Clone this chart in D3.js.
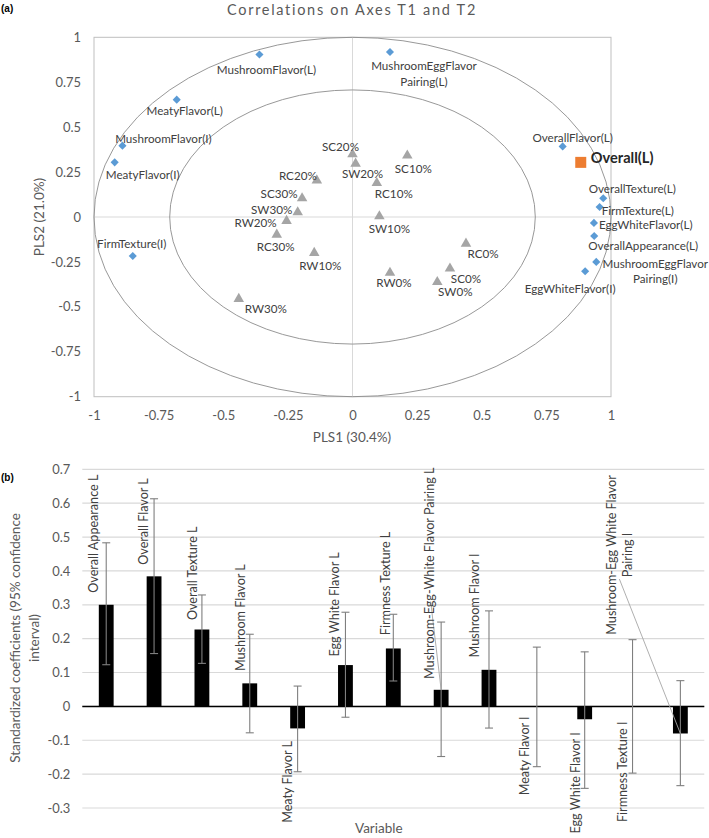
<!DOCTYPE html>
<html><head><meta charset="utf-8">
<script src="https://cdn.jsdelivr.net/npm/d3@7"></script>
<style>
body{margin:0;background:#fff;}
svg{display:block;font-family:Lato, "Open Sans", sans-serif;}
</style></head>
<body>
<svg id="c" width="709" height="838"></svg>
<script>
// ---------- Panel (a) data ----------
const varNames = ["MushroomFlavor(L)","MeatyFlavor(L)","MushroomFlavor(I)","MeatyFlavor(I)","FirmTexture(I)",
  "MushroomEggFlavor|Pairing(L)","OverallFlavor(L)","OverallTexture(L)","FirmTexture(L)","EggWhiteFlavor(L)",
  "OverallAppearance(L)","MushroomEggFlavor|Pairing(I)","EggWhiteFlavor(I)"];
const varX = [-0.36,-0.68,-0.89,-0.92,-0.85,0.145,0.813,0.97,0.956,0.934,0.935,0.943,0.90];
const varY = [0.904,0.653,0.397,0.304,-0.217,0.918,0.393,0.104,0.056,-0.033,-0.106,-0.25,-0.302];

const obsNames = ["SC20%","SW20%","SC10%","RC10%","SW10%","RC20%","SC30%","SW30%","RW20%","RC30%","RW10%","RW30%","RC0%","SC0%","SW0%","RW0%"];
const obsX = [0.0,0.012,0.212,0.094,0.104,-0.138,-0.195,-0.212,-0.255,-0.293,-0.148,-0.44,0.439,0.377,0.328,0.145];
const obsY = [0.349,0.297,0.342,0.189,0.004,0.204,0.104,0.026,-0.022,-0.098,-0.2,-0.456,-0.148,-0.287,-0.362,-0.31];

const depName = ["Overall(L)"];
const depX = [0.883];
const depY = [0.304];

const axisTicks = [-1,-0.75,-0.5,-0.25,0,0.25,0.5,0.75,1];
const circleRadii = [1, Math.SQRT1_2];

// label placement (pixels relative to point)
const varLabelPos = [[7,14,"middle"],[8,10,"middle"],[41,-8,"middle"],[28,12,"middle"],[-1,-13,"middle"],
  [34,13,"middle"],[10,-9,"middle"],[29,-10,"middle"],[2,3.5,"start"],[5,1.5,"start"],
  [49,9,"middle"],[59,0.6,"middle"],[-15,17,"middle"]];
const obsLabelPos = [[-12,-8],[7,9.4],[6,12.4],[17,10],[10,12],[-19,-5],[-23,-5.5],[-26,-3],[-31,1],[-1,11],[6,12],[27,9],[17,9],[16,9],[18,9],[4,9]];

// ---------- Panel (b) data ----------
const cats = ["Overall Appearance L","Overall Flavor L","Overall Texture L","Mushroom Flavor L","Meaty Flavor L",
  "Egg White Flavor L","Firmness Texture L","Mushroom-Egg-White Flavor Pairing L","Mushroom Flavor I","Meaty Flavor I",
  "Egg White Flavor I","Firmness Texture I","Mushroom-Egg White Flavor|Pairing I"];
const coef  = [0.30,0.384,0.227,0.068,-0.065,0.122,0.171,0.049,0.108,0.0,-0.038,0.0,-0.08];
const ciHi  = [0.483,0.613,0.329,0.213,0.06,0.278,0.272,0.249,0.282,0.175,0.161,0.197,0.076];
const ciLo  = [0.123,0.156,0.127,-0.078,-0.193,-0.032,0.075,-0.148,-0.064,-0.178,-0.242,-0.197,-0.234];
const bTicks = [-0.3,-0.2,-0.1,0,0.1,0.2,0.3,0.4,0.5,0.6,0.7];
// label placement: [dx px from bar centre, label centre in value units]
const catLabelPos = [[-13,0.510],[-10.7,0.546],[-9.3,0.393],[-9.3,0.262],[-10.4,-0.223],[-10.7,0.301],[-8.3,0.363],
  [-11.3,0.393],[-14.3,0.298],[-12.3,-0.146],[-9,-0.226],[-10.3,-0.193],[-69,0.447]];
// leader lines: index, start (dx px, value)
const leaders = [[7,-10.5,0.31],[12,-61,0.376]];

const svg = d3.select("#c");
const grayTxt = "#595959", darkTxt = "#404040";

// font calibration against text widths
function fitSize(samples, targetWidths, base, weight){
  const t = svg.append("g");
  let m = 0;
  samples.forEach(s=>{ const e=t.append("text").attr("font-size",base).attr("font-weight",weight||"normal").text(s); m+=e.node().getComputedTextLength(); });
  t.remove();
  return base * d3.sum(targetWidths) / m;
}
const fsPoint = fitSize(["MushroomFlavor(L)","MeatyFlavor(L)","OverallAppearance(L)","EggWhiteFlavor(I)","SC20%"],[100.7,76.7,111,90.7,34.6],12);
const fsCat = fitSize(["Overall Appearance L","Meaty Flavor L","Egg White Flavor I","Firmness Texture I","Mushroom-Egg-White Flavor Pairing L"],[121,80,95.7,100,216.7],12);
const fsTick = fitSize(["0.75","-0.75","-0.3","0.7"],[26,29.3,23.3,18.3],12);
const fsDep = fitSize(["Overall(L)"],[62.7],14,"bold");

// ================= Panel (a) =================
const x = d3.scaleLinear().domain([-1,1]).range([94,611]);
const y = d3.scaleLinear().domain([-1,1]).range([396.7,37.3]);
const gA = svg.append("g");

svg.append("text").attr("x",1).attr("y",12).attr("font-size",10).attr("font-weight","bold")
  .attr("font-family","Arial, sans-serif").text("(a)");
svg.append("text").attr("x",352).attr("y",15).attr("text-anchor","middle").attr("font-size",14.5)
  .attr("letter-spacing","1.7px").attr("fill",grayTxt).text("Correlations on Axes T1 and T2");

gA.append("rect").attr("x",x(-1)).attr("y",y(1)).attr("width",x(1)-x(-1)).attr("height",y(-1)-y(1))
  .attr("fill","none").attr("stroke","#bfbfbf");
gA.append("line").attr("x1",x(0)).attr("x2",x(0)).attr("y1",y(1)).attr("y2",y(-1)).attr("stroke","#d9d9d9");
gA.append("line").attr("x1",x(-1)).attr("x2",x(1)).attr("y1",y(0)).attr("y2",y(0)).attr("stroke","#d9d9d9");
circleRadii.forEach(r=>{
  gA.append("ellipse").attr("cx",x(0)).attr("cy",y(0)).attr("rx",x(r)-x(0)).attr("ry",y(0)-y(r))
    .attr("fill","none").attr("stroke","#8c8c8c").attr("stroke-width",0.9);
});

const fmtTick = d=> d===0?"0":String(d);
const ay = gA.append("g").attr("transform",`translate(${x(-1)},0)`)
  .call(d3.axisLeft(y).tickValues(axisTicks).tickFormat(fmtTick).tickSize(0).tickPadding(13));
const ax = gA.append("g").attr("transform",`translate(0,${y(-1)})`)
  .call(d3.axisBottom(x).tickValues(axisTicks).tickFormat(fmtTick).tickSize(0).tickPadding(14));
[ay,ax].forEach(a=>{a.select(".domain").remove();a.selectAll("text").attr("font-size",fsTick).attr("fill",grayTxt).attr("font-family","Lato");});

gA.append("text").attr("x",352).attr("y",442).attr("text-anchor","middle").attr("font-size",13.5).attr("fill",grayTxt).text("PLS1 (30.4%)");
gA.append("text").attr("transform","translate(44,217) rotate(-90)").attr("text-anchor","middle").attr("font-size",13.5).attr("fill",grayTxt).text("PLS2 (21.0%)");

// observations (triangles)
const tri = d3.symbol().type(d3.symbolTriangle).size(48);
obsNames.forEach((n,i)=>{
  const px=x(obsX[i]), py=y(obsY[i]);
  gA.append("path").attr("d",tri()).attr("transform",`translate(${px},${py})`).attr("fill","#a5a5a5");
  gA.append("text").attr("x",px+obsLabelPos[i][0]).attr("y",py+obsLabelPos[i][1]).attr("text-anchor","middle")
    .attr("dominant-baseline","central").attr("font-size",fsPoint).attr("fill",darkTxt).text(n);
});
// variables (diamonds)
const dia = d3.symbol().type(d3.symbolDiamond2).size(42);
varNames.forEach((n,i)=>{
  const px=x(varX[i]), py=y(varY[i]);
  gA.append("path").attr("d",dia()).attr("transform",`translate(${px},${py})`).attr("fill","#5b9bd5");
  const lines=n.split("|"), p=varLabelPos[i];
  lines.forEach((t,k)=>{
    gA.append("text").attr("x",px+p[0]).attr("y",py+p[1]+k*15.5).attr("text-anchor",p[2])
      .attr("dominant-baseline","central").attr("font-size",fsPoint).attr("fill",darkTxt).text(t);
  });
});
// dependent
depName.forEach((n,i)=>{
  const px=x(depX[i]), py=y(depY[i]);
  gA.append("rect").attr("x",px-5.5).attr("y",py-5.5).attr("width",11).attr("height",11).attr("fill","#ed7d31");
  gA.append("text").attr("x",px+10).attr("y",py-5).attr("dominant-baseline","central").attr("font-size",fsDep)
    .attr("font-weight","bold").attr("fill","#262626").text(n);
});

// ================= Panel (b) =================
const xb = d3.scaleBand().domain(cats).range([82.3,704.3]).paddingInner(0.69).paddingOuter(0.345);
const yb = d3.scaleLinear().domain([-0.3,0.7]).range([808,469.3]);
const gB = svg.append("g");
svg.append("text").attr("x",1).attr("y",481).attr("font-size",10).attr("font-weight","bold")
  .attr("font-family","Arial, sans-serif").text("(b)");

gB.selectAll("line.grid").data(bTicks).join("line").attr("class","grid")
  .attr("x1",82.3).attr("x2",704.3).attr("y1",d=>yb(d)).attr("y2",d=>yb(d)).attr("stroke","#d9d9d9").attr("stroke-width",1.2);
const byAx = gB.append("g").attr("transform","translate(82.3,0)")
  .call(d3.axisLeft(yb).tickValues(bTicks).tickFormat(d=>d===0?"0":d3.format(".1f")(d).replace("−","-")).tickSize(0).tickPadding(12));
byAx.select(".domain").remove();
byAx.selectAll("text").attr("font-size",fsTick).attr("fill",grayTxt).attr("font-family","Lato");

gB.selectAll("rect.bar").data(cats).join("rect").attr("class","bar")
  .attr("x",d=>xb(d)).attr("width",xb.bandwidth())
  .attr("y",(d,i)=>yb(Math.max(0,coef[i]))).attr("height",(d,i)=>Math.max(0.01,Math.abs(yb(coef[i])-yb(0))))
  .attr("fill","#000");
gB.append("line").attr("x1",82.3).attr("x2",704.3).attr("y1",yb(0)).attr("y2",yb(0)).attr("stroke","#000").attr("stroke-width",1.5);

cats.forEach((c,i)=>{
  const cx = xb(c)+xb.bandwidth()/2;
  gB.append("line").attr("x1",cx).attr("x2",cx).attr("y1",yb(ciHi[i])).attr("y2",yb(ciLo[i])).attr("stroke","#7f7f7f").attr("stroke-width",1.1);
  [ciHi[i],ciLo[i]].forEach(v=>gB.append("line").attr("x1",cx-4).attr("x2",cx+4).attr("y1",yb(v)).attr("y2",yb(v)).attr("stroke","#7f7f7f").attr("stroke-width",1.1));
});
leaders.forEach(([i,dx,v])=>{
  const c=cats[i], cx=xb(c)+xb.bandwidth()/2;
  gB.append("line").attr("x1",cx+dx).attr("y1",yb(v)).attr("x2",cx).attr("y2",yb(coef[i])).attr("stroke","#a6a6a6").attr("stroke-width",0.9);
});
cats.forEach((c,i)=>{
  const cx = xb(c)+xb.bandwidth()/2, p=catLabelPos[i];
  const lines=c.split("|");
  lines.forEach((t,k)=>{
    gB.append("text").attr("transform",`translate(${cx+p[0]+k*16.6},${yb(p[1])}) rotate(-90)`)
      .attr("text-anchor","middle").attr("dominant-baseline","central").attr("font-size",fsCat).attr("fill",darkTxt).text(t);
  });
});

gB.append("text").attr("transform","translate(15,638) rotate(-90)").attr("text-anchor","middle").attr("dominant-baseline","central")
  .attr("font-size",13.5).attr("fill",grayTxt).text("Standardized coefficients (95% confidence");
gB.append("text").attr("transform","translate(34,638) rotate(-90)").attr("text-anchor","middle").attr("dominant-baseline","central")
  .attr("font-size",13.5).attr("fill",grayTxt).text("interval)");
gB.append("text").attr("x",355).attr("y",833).attr("font-size",13.5).attr("fill",grayTxt).text("Variable");
</script>
</body></html>
